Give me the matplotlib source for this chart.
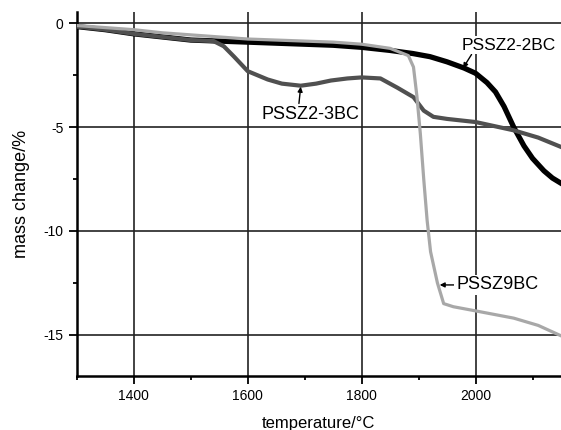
import matplotlib.pyplot as plt
import numpy as np

plt.rcParams['font.family'] = ['Liberation Sans', 'DejaVu Sans']

# readings from the reference picture
t_2bc = [1300, 1350, 1400, 1450, 1500, 1550, 1600, 1650, 1700, 1750, 1800, 1850, 1890, 1920, 1950,
         1980, 2000, 2020, 2035, 2050, 2067, 2085, 2100, 2120, 2135, 2150]
m_2bc = [-0.15, -0.3, -0.5, -0.65, -0.8, -0.85, -0.9, -0.95, -1.0, -1.05, -1.15, -1.3, -1.45, -1.6, -1.85,
         -2.15, -2.4, -2.85, -3.3, -4.0, -5.0, -5.9, -6.5, -7.1, -7.45, -7.7]

t_3bc = [1300, 1350, 1400, 1450, 1500, 1540, 1558, 1576, 1600, 1635, 1660, 1693, 1720, 1746, 1775,
         1800, 1833, 1863, 1891, 1909, 1926, 1950, 2000, 2067, 2110, 2150]
m_3bc = [-0.15, -0.3, -0.5, -0.65, -0.8, -0.85, -1.1, -1.6, -2.3, -2.7, -2.9, -3.0, -2.9, -2.75, -2.65,
         -2.6, -2.65, -3.1, -3.55, -4.2, -4.5, -4.6, -4.75, -5.15, -5.5, -5.95]

t_9bc = [1300, 1350, 1400, 1450, 1500, 1550, 1600, 1650, 1700, 1750, 1800, 1850, 1882, 1891, 1897,
         1903, 1909, 1915, 1921, 1933, 1944, 1961, 2000, 2067, 2110, 2150]
m_9bc = [-0.1, -0.2, -0.3, -0.45, -0.55, -0.65, -0.75, -0.8, -0.85, -0.9, -1.0, -1.2, -1.55, -2.1, -3.5,
         -5.3, -7.5, -9.5, -11.0, -12.5, -13.5, -13.65, -13.85, -14.2, -14.55, -15.05]

x_major = [1400, 1600, 1800, 2000]
x_minor = [1300, 1500, 1700, 1900, 2100]
y_major = [0, -5, -10, -15]
y_minor = [-2.5, -7.5, -12.5]

fig = plt.figure(figsize=(5.61, 4.30), dpi=100)
ax = fig.add_axes([0.137, 0.125, 0.863, 0.847])

ax.plot(t_2bc, m_2bc, color='black', lw=3.8, zorder=3)
ax.plot(t_3bc, m_3bc, color='#505050', lw=3.0, zorder=4)
ax.plot(t_9bc, m_9bc, color='#a8a8a8', lw=2.3, zorder=5)

ax.set_xlim(1300, 2150)
ax.set_ylim(-17, 0.55)
ax.set_xticks(x_major)
ax.set_xticks(x_minor, minor=True)
ax.set_yticks(y_major)
ax.set_yticks(y_minor, minor=True)
ax.set_yticklabels(['0', '-5', '-10', '-15'])
ax.grid(True, which='major', color='#222222', lw=1.2)
ax.set_axisbelow(True)
ax.tick_params(which='major', direction='out', length=6, width=1.3, labelsize=10)
ax.tick_params(which='minor', direction='out', length=3, width=1.3)
for s in ['top', 'right']:
    ax.spines[s].set_visible(False)
for s in ['left', 'bottom']:
    ax.spines[s].set_linewidth(1.8)

ax.set_xlabel('temperature/°C', fontsize=12, labelpad=9)
ax.set_ylabel('mass change/%', fontsize=13, labelpad=10)

box = dict(boxstyle='square,pad=0.1', fc='white', ec='none')
ax.annotate('PSSZ2-2BC', xy=(1978, -2.15), xytext=(1975, -1.05), fontsize=12.5,
            ha='left', va='center', zorder=6, bbox=box,
            arrowprops=dict(arrowstyle='-|>', color='black', lw=1, mutation_scale=7, shrinkA=0, shrinkB=0,
                            relpos=(0.12, 0.0)))
ax.annotate('PSSZ2-3BC', xy=(1693, -3.05), xytext=(1710, -4.4), fontsize=13,
            ha='center', va='center', zorder=6,
            arrowprops=dict(arrowstyle='-|>', color='black', lw=1, mutation_scale=7, shrinkA=0, shrinkB=0,
                            relpos=(0.38, 1.0)))
ax.annotate('PSSZ9BC', xy=(1937, -12.6), xytext=(1966, -12.6), fontsize=13,
            ha='left', va='center', zorder=6, bbox=box,
            arrowprops=dict(arrowstyle='-|>', color='black', lw=1, mutation_scale=7, shrinkA=0, shrinkB=0,
                            relpos=(0.0, 0.5)))

fig.savefig('out.png', dpi=100)
